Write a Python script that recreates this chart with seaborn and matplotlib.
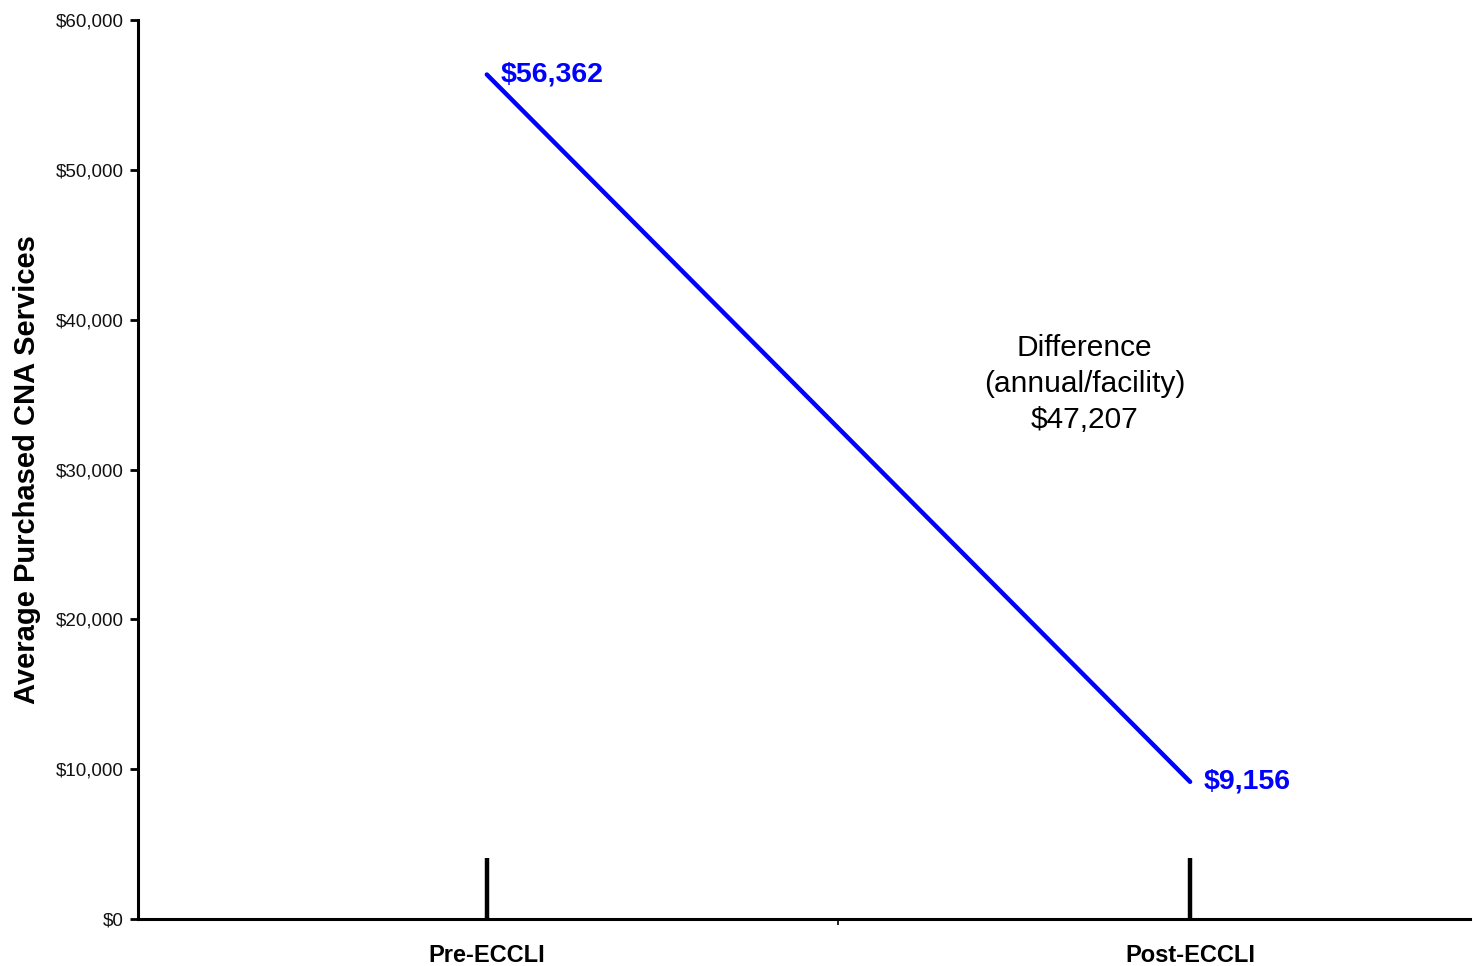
import matplotlib
matplotlib.use("Agg")
import matplotlib.pyplot as plt
import seaborn as sns
import pandas as pd
from matplotlib.ticker import FixedLocator, FuncFormatter

# Data
periods = ["Pre-ECCLI", "Post-ECCLI"]
cost = [56362, 9156]
point_labels = ["$56,362", "$9,156"]
difference = 47207
y_ticks = [0, 10000, 20000, 30000, 40000, 50000, 60000]

sns.set_theme(style="white")
plt.rcParams["font.family"] = ["Liberation Sans", "DejaVu Sans"]
plt.rcParams["text.color"] = "black"
plt.rcParams["axes.labelcolor"] = "black"

df = pd.DataFrame({"period": periods, "cost": cost})

fig = plt.figure(figsize=(14.73, 9.66), dpi=100)
ax = fig.add_axes([138 / 1473, 1 - 919 / 966, (1470 - 138) / 1473, (919 - 20) / 966])

sns.lineplot(data=df, x="period", y="cost", ax=ax, color="#0000ff", linewidth=3.2,
             sort=False)

ax.set_ylim(0, 60000)
ax.set_xlim(-0.496, 1.398)

ax.yaxis.set_major_locator(FixedLocator(y_ticks))
ax.yaxis.set_major_formatter(FuncFormatter(lambda v, p: f"${v:,.0f}"))

ax.set_xticks(range(len(periods)))
ax.set_xticklabels(periods, fontsize=17, fontweight="bold", color="black")
ax.xaxis.set_minor_locator(FixedLocator([-0.5, 0.5, 1.5]))

ax.tick_params(axis="x", which="major", direction="in", length=44, width=3.2,
               color="black", pad=18, bottom=True)
ax.tick_params(axis="x", which="minor", direction="out", length=4, width=1.2,
               color="black", bottom=True)
ax.tick_params(axis="y", which="major", direction="out", length=6, width=2,
               color="black", pad=4, labelsize=13.5, labelcolor="#111111", left=True)

for s in ["top", "right"]:
    ax.spines[s].set_visible(False)
for s in ["left", "bottom"]:
    ax.spines[s].set_color("black")
    ax.spines[s].set_linewidth(2.2)

ax.set_xlabel("")
ax.set_ylabel("Average Purchased CNA Services", fontsize=21, fontweight="bold",
              color="black")
ax.yaxis.set_label_coords(-0.0725, 0.5)

# point labels
for i, (v, lab) in enumerate(zip(cost, point_labels)):
    ax.annotate(lab, xy=(i, v), xytext=(10, 0), textcoords="offset points",
                ha="left", va="center", color="#0000ff", fontsize=20.5, fontweight="bold")

ax.text(0.85, 35700, f"Difference\n(annual/facility)\n${difference:,}", ha="center",
        va="center", fontsize=21.5, linespacing=1.38, color="black")

ax.grid(False)
fig.savefig("out.png", dpi=100)
